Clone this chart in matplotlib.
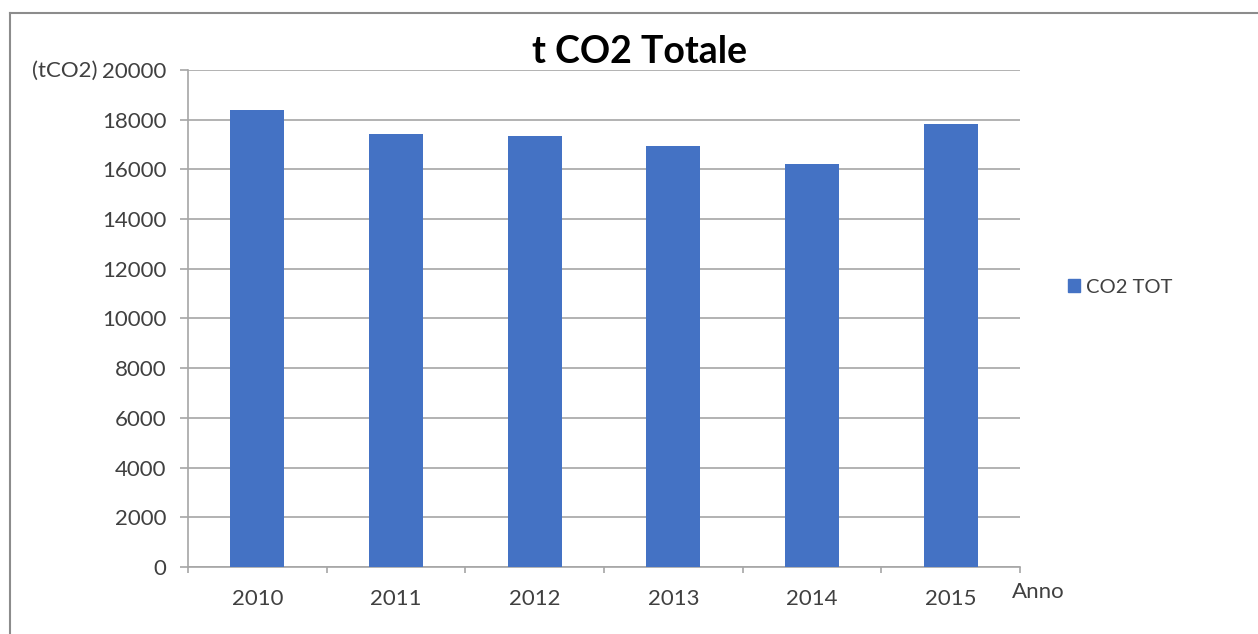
import matplotlib
matplotlib.use("Agg")
import matplotlib.pyplot as plt
from matplotlib.lines import Line2D
from matplotlib.patches import Patch

anni = ["2010", "2011", "2012", "2013", "2014", "2015"]
co2_tot = [18380, 17410, 17360, 16950, 16220, 17810]

plt.rcParams["font.family"] = ["Lato", "DejaVu Sans"]
GRID = "#a6a6a6"
BLUE = "#4472c4"
TXT = "#404040"

fig = plt.figure(figsize=(12.58, 6.34), dpi=100)
ax = fig.add_axes([0.1494, 0.1057, 0.6614, 0.7839])

x = list(range(len(anni)))
ax.bar(x, co2_tot, width=0.39, color=BLUE, zorder=3, label="CO2 TOT")

ax.set_xlim(-0.5, len(anni) - 0.5)
ax.set_ylim(0, 20000)
ax.set_yticks(range(0, 20001, 2000))
ax.yaxis.grid(True, color=GRID, linewidth=1.2, zorder=0)

# category boundaries get the tick marks, labels sit at the centres
ax.set_xticks([i - 0.5 for i in range(len(anni) + 1)])
ax.set_xticklabels([])
ax.set_xticks(x, minor=True)
ax.set_xticklabels(anni, minor=True)
ax.tick_params(axis="x", which="major", length=4.5, width=1.2, color=GRID, direction="out")
ax.tick_params(axis="x", which="minor", length=0, pad=16, labelsize=16, labelcolor=TXT)
ax.tick_params(axis="y", length=5.5, width=1.2, color=GRID, pad=10, labelsize=16, labelcolor=TXT)

for s in ["top", "right"]:
    ax.spines[s].set_visible(False)
for s in ["left", "bottom"]:
    ax.spines[s].set_color(GRID)
    ax.spines[s].set_linewidth(1.2)

fig.text(640 / 1258, 1 - 52 / 634, "t CO2 Totale", ha="center", va="center",
         fontsize=27, fontweight="bold", color="black")
fig.text(65 / 1258, 1 - 71 / 634, "(tCO2)", ha="center", va="center", fontsize=16, color=TXT)
fig.text(1012 / 1258, 1 - 592 / 634, "Anno", ha="left", va="center", fontsize=16, color=TXT)

fig.legend(handles=[Patch(color=BLUE, label="CO2 TOT")], loc="center left",
           bbox_to_anchor=(1050 / 1258, 1 - 287 / 634), frameon=False, fontsize=14.5,
           handlelength=0.6, handleheight=0.6, handletextpad=0.3, labelcolor=TXT)

# outer chart frame (only top and left edges visible in the crop)
fig.add_artist(Line2D([10 / 1258, 1], [1 - 13 / 634] * 2, color="#8c8c8c", linewidth=1.5))
fig.add_artist(Line2D([10 / 1258] * 2, [0, 1 - 13 / 634], color="#8c8c8c", linewidth=1.5))

fig.savefig("out.png", dpi=100)
